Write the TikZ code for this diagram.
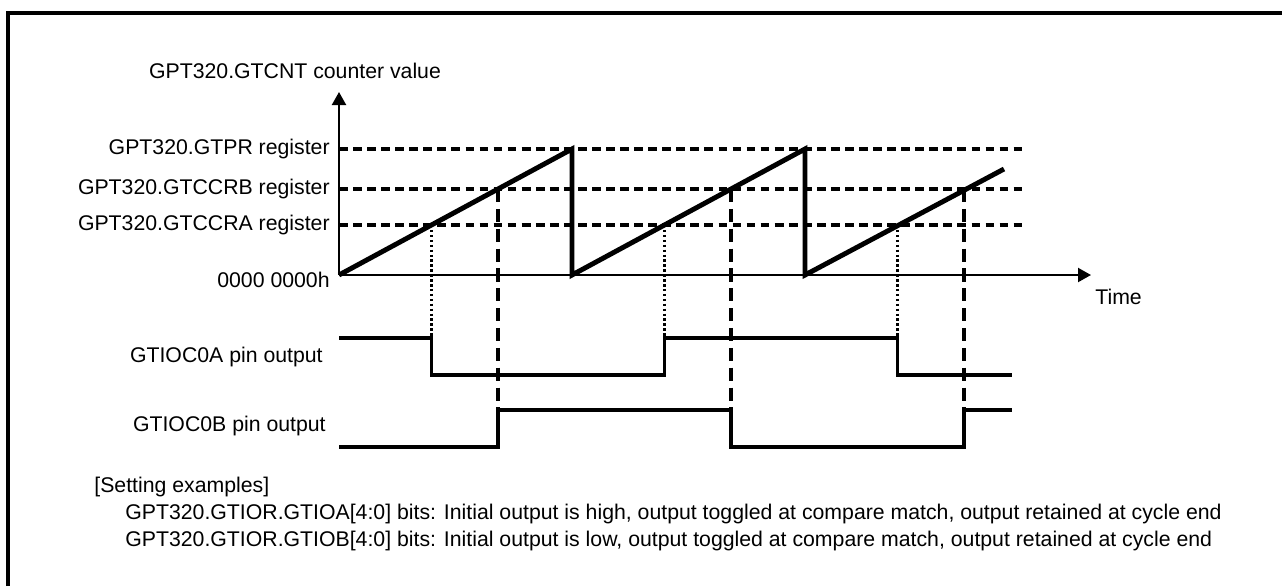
\documentclass[tikz,border=0pt]{standalone}
\usepackage{fontspec}
\setmainfont{Liberation Sans}
\usepackage{tikz}
\usetikzlibrary{arrows.meta,positioning}

\begin{document}
\begin{tikzpicture}[
  x=0.02cm, y=-0.02cm,
  >={Triangle[length=2.6mm,width=2.8mm]},
  lbl/.style={font=\fontsize{12.1}{14}\selectfont, inner sep=0pt},
  axis/.style={draw, line width=1.2pt},
  level/.style={draw, line width=2pt, dash pattern=on 5pt off 3pt},
  matchA/.style={draw, line width=1.6pt, dash pattern=on 1.4pt off 1.4pt},
  matchB/.style={draw, line width=2pt, dash pattern=on 7.5pt off 3.8pt},
  counter/.style={draw, line width=2.8pt, line join=miter},
  pin/.style={draw, line width=2.2pt, line join=miter}
]
  \useasboundingbox (0,0) rectangle (1282,586);
  % open frame
  \draw[line width=2.4pt] (8,586) -- (8,13) -- (1282,13);

  \coordinate (origin) at (339,275);
  \coordinate (ytip) at (339,92);
  \coordinate (xtip) at (1091,275);

  \node[lbl] (ylabel) at (295,71) {GPT320.GTCNT counter value};
  \node[lbl, anchor=east] (prlab) at (330,149) {GPT320.GTPR register};
  \node[lbl, anchor=east] (ccrblab) at (330,189) {GPT320.GTCCRB register};
  \node[lbl, anchor=east] (ccralab) at (330,225) {GPT320.GTCCRA register};
  \node[lbl, anchor=east] (zerolab) at (330,280) {0000 0000h};
  \node[lbl, anchor=west] (timelab) at (1095,297) {Time};
  \node[lbl, anchor=east] (pinalab) at (323,357) {GTIOC0A pin output};
  \node[lbl, anchor=east] (pinblab) at (326,426) {GTIOC0B pin output};

  \node[lbl, anchor=west] (settitle) at (94,487) {[Setting examples]};
  \node[lbl, anchor=west] (setA) at (125,514) {GPT320.GTIOR.GTIOA[4:0] bits: Initial output is high, output toggled at compare match, output retained at cycle end};
  \node[lbl, anchor=west] (setB) at (125,541) {GPT320.GTIOR.GTIOB[4:0] bits: Initial output is low, output toggled at compare match, output retained at cycle end};

  % register levels
  \foreach \yy in {149,189,225}
    \path[level] (339,\yy) -- (1023,\yy);

  % compare match lines
  \foreach \xx in {431.5,664.5,897.5}
    \path[matchA] (\xx,225) -- (\xx,338);
  \foreach \xx in {498,731,964}
    \path[matchB] (\xx,189) -- (\xx,410);

  % axes
  \draw[axis, ->] (origin) -- (ytip);
  \draw[axis, ->] (origin) -- (xtip);

  % counter
  \path[counter] (origin) -- (572,149) -- (572,275) -- (805,149) -- (805,275) -- (1004,169);

  % pin outputs
  \path[pin] (339,338) -- (431.5,338) -- (431.5,375) -- (664.5,375) -- (664.5,338)
    -- (897.5,338) -- (897.5,375) -- (1012,375);
  \path[pin] (339,447) -- (498,447) -- (498,410) -- (731,410) -- (731,447)
    -- (964,447) -- (964,410) -- (1012,410);
\end{tikzpicture}
\end{document}
